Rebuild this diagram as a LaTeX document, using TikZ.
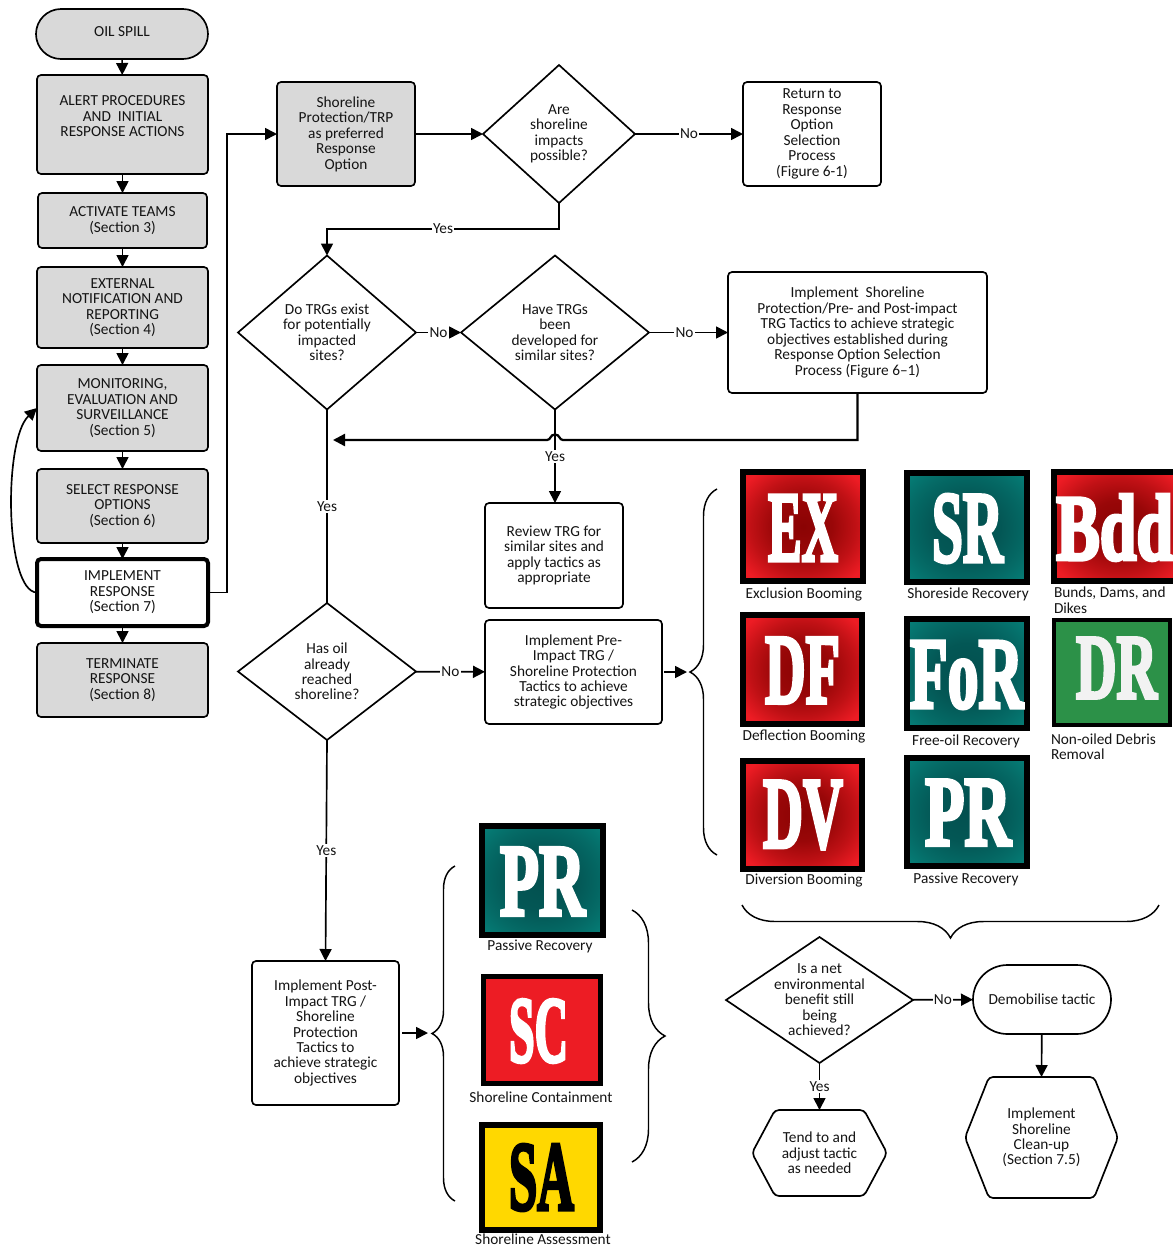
\documentclass[tikz,border=0pt]{standalone}
\usepackage{fontspec}
\setmainfont{Carlito}
\newfontfamily\fatface[BoldFeatures={FakeBold=4}]{Liberation Serif}
\usetikzlibrary{shapes.geometric,shapes.misc,arrows.meta,calc,decorations.pathreplacing}
\definecolor{greybox}{HTML}{D9D9D9}
\definecolor{txt}{HTML}{141414}
\definecolor{tred}{HTML}{ED1C24}
\definecolor{tredd}{HTML}{8A0303}
\definecolor{tteal}{HTML}{067F78}
\definecolor{tteald}{HTML}{03504F}
\definecolor{tgreen}{HTML}{2C9148}
\definecolor{tyellow}{HTML}{FFD800}
\definecolor{offwhite}{HTML}{F2F2F2}
\pgfdeclareradialshading{redhalo}{\pgfpointorigin}{color(0bp)=(tredd); color(12bp)=(tredd!85!tred); color(22bp)=(tred!55!tredd); color(31bp)=(tred); color(50bp)=(tred)}
\pgfdeclareradialshading{tealhalo}{\pgfpointorigin}{color(0bp)=(tteald); color(14bp)=(tteald!85!tteal); color(25bp)=(tteal!55!tteald); color(35bp)=(tteal); color(50bp)=(tteal)}
\newcommand{\gl}[3]{\resizebox{\dimexpr#1pt*3/4\relax}{\dimexpr#2pt*3/4\relax}{\fatface\bfseries #3}}
\newcommand{\hexframe}[2]{\draw[conn,rounded corners=3pt] (#1.west) -- ($(#1.north west)+(#2,0)$) -- ($(#1.north east)+(-#2,0)$) -- (#1.east) -- ($(#1.south east)+(-#2,0)$) -- ($(#1.south west)+(#2,0)$) -- cycle;}
\tikzset{
  every node/.style={inner sep=0pt,outer sep=0pt,align=center,text=txt,font=\fontsize{11.5}{11.6}\selectfont},
  sz/.style 2 args={minimum width=#1*0.75pt,minimum height=#2*0.75pt},
  conn/.style={draw=black,line width=1.25pt},
  arr/.style={conn,-{Triangle[length=9pt,width=9pt]}},
  greyb/.style={draw=black,line width=1.25pt,fill=greybox,rounded corners=3pt},
  whiteb/.style={draw=black,line width=1.25pt,fill=white,rounded corners=3pt},
  thickb/.style={draw=black,line width=3pt,fill=white,rounded corners=3pt},
  stadium/.style={draw=black,line width=1.25pt,rounded rectangle},
  dia/.style={diamond,draw=black,line width=1.25pt,fill=white},
  lab/.style={fill=white,inner sep=1pt},
  tile/.style={draw=black,line width=4.5pt},
  brc/.style={draw=black,line width=1.1pt,decorate,decoration={brace,amplitude=#1*0.75pt}},
}
\begin{document}
\begin{tikzpicture}[x=0.75pt,y=-0.75pt]
\useasboundingbox (0,0) rectangle (1173,1247);
\clip (0,0) rectangle (1173,1247);
% left column
\node[stadium,fill=greybox,sz={172}{50}] (oil) at (122,34) {\raisebox{3pt}{OIL SPILL}};
\node[greyb,sz={171}{99}] (alert) at (122.5,124.5) {ALERT PROCEDURES\\AND\ \ INITIAL\\RESPONSE ACTIONS\\[1pt]~};
\node[greyb,sz={169}{55}] (activate) at (122.5,220.5) {ACTIVATE TEAMS\\(Section 3)};
\node[greyb,sz={171}{81}] (external) at (122.5,307.5) {EXTERNAL\\NOTIFICATION AND\\REPORTING\\(Section 4)};
\node[greyb,sz={171}{86}] (monitor) at (122.5,408) {MONITORING,\\EVALUATION AND\\SURVEILLANCE\\(Section 5)};
\node[greyb,sz={171}{74}] (select) at (122.5,506) {SELECT RESPONSE\\OPTIONS\\(Section 6)};
\node[thickb,sz={171}{67}] (impl) at (122.5,592.5) {IMPLEMENT\\RESPONSE\\(Section 7)};
\node[greyb,sz={171}{74}] (term) at (122.5,680) {TERMINATE\\RESPONSE\\(Section 8)};
% top row
\node[greyb,sz={138}{104}] (shore) at (346,134) {Shoreline\\Protection/TRP\\as preferred\\Response\\Option};
\node[dia,sz={152}{138},label=center:{Are\\shoreline\\impacts\\possible?}] (d1) at (559,134) {};
\node[whiteb,sz={138}{104}] (ret) at (812,134) {Return to\\Response\\Option\\Selection\\Process\\(Figure 6-1)};
% second row
\node[dia,sz={178}{154},label=center:{Do TRGs exist\\for potentially\\impacted\\sites?}] (d2) at (327,332.5) {};
\node[dia,sz={188}{154},label=center:{Have TRGs\\been\\developed for\\similar sites?}] (d3) at (555,332.5) {};
\node[whiteb,sz={259}{121}] (tact) at (857.5,332.5) {Implement\ \ Shoreline\\Protection/Pre- and Post-impact\\TRG Tactics to achieve strategic\\objectives established during\\Response Option Selection\\Process (Figure 6--1)};
\node[whiteb,sz={138}{105}] (review) at (554,555.5) {Review TRG for\\similar sites and\\apply tactics as\\appropriate};
\node[dia,sz={178}{137},label=center:{Has oil\\already\\reached\\shoreline?}] (d4) at (327,671.5) {};
\node[whiteb,sz={177}{104}] (pre) at (573.5,672) {Implement Pre-\\Impact TRG /\\Shoreline Protection\\Tactics to achieve\\strategic objectives};
\node[whiteb,sz={147}{144}] (post) at (325.5,1033) {Implement Post-\\Impact TRG /\\Shoreline\\Protection\\Tactics to\\achieve strategic\\objectives};
% bottom right
\node[dia,sz={187}{126},label=center:{Is a net\\environmental\\benefit still\\being\\achieved?}] (d5) at (819.5,1000) {};
\node[stadium,fill=white,sz={138}{69}] (demob) at (1042,999.5) {Demobilise tactic};
\node[sz={135}{86}] (hex1) at (819.5,1153) {Tend to and\\adjust tactic\\as needed};
\hexframe{hex1}{23}
\node[sz={153}{121}] (hex2) at (1041.5,1137.5) {Implement\\Shoreline\\Clean-up\\(Section 7.5)};
\hexframe{hex2}{24}
% tiles
\node[tile,shade,shading=redhalo,sz={120}{109}] (tEX) at (803,526.5) {};
\node at (803,528) {\textcolor{white}{\gl{70}{65}{EX}}};
\node[tile,shade,shading=tealhalo,sz={120}{109}] (tSR) at (967,527.5) {};
\node at (967.5,528.5) {\textcolor{white}{\gl{71}{67}{SR}}};
\node[tile,shade,shading=redhalo,sz={130}{109}] (tBdd) at (1119,526.5) {};
\node at (1114.5,527.5) {\textcolor{white}{\gl{117}{65}{Bdd}}};
\node[tile,shade,shading=redhalo,sz={119}{109}] (tDF) at (802.5,669.5) {};
\node at (802.5,670.5) {\textcolor{white}{\gl{75}{65}{DF}}};
\node[tile,shade,shading=tealhalo,sz={120}{109}] (tFoR) at (967,673.5) {};
\node at (966.5,675) {\textcolor{white}{\gl{113}{66}{FoR}}};
\node[tile,fill=tgreen,line width=3pt,sz={116}{105}] (tDR) at (1112,672.5) {};
\node at (1116.5,668) {\textcolor{offwhite}{\gl{81}{60}{DR}}};
\node[tile,shade,shading=redhalo,sz={119}{108}] (tDV) at (802.5,815) {};
\node at (803,815) {\textcolor{white}{\gl{80}{66}{DV}}};
\node[tile,shade,shading=tealhalo,sz={120}{108}] (tPR) at (967,812) {};
\node at (968,812.5) {\textcolor{white}{\gl{86}{65}{PR}}};
\node[tile,shade,shading=tealhalo,sz={121}{109}] (tPR2) at (542.5,880.5) {};
\node at (542.5,881.5) {\textcolor{white}{\gl{85}{67}{PR}}};
\node[tile,fill=tred,line width=3.75pt,sz={117}{107}] (tSC) at (542,1030) {};
\node at (538.5,1031) {\textcolor{white}{\gl{59}{62}{SC}}};
\node[tile,fill=tyellow,sz={118}{105}] (tSA) at (541,1177.5) {};
\node at (541.5,1177.5) {\textcolor{black}{\gl{65}{65}{SA}}};
% tile captions
\node (c1) at (804,594) {Exclusion Booming};
\node (c2) at (968,594) {Shoreside Recovery};
\node[anchor=west,align=left] (c3) at (1054,600) {Bunds, Dams, and\\Dikes};
\node (c4) at (804,737) {Deflection Booming};
\node (c5) at (966,741) {Free-oil Recovery};
\node[anchor=west,align=left] (c6) at (1051,746.5) {Non-oiled Debris\\Removal};
\node (c7) at (804,881) {Diversion Booming};
\node (c8) at (966,879) {Passive Recovery};
\node (c9) at (540,946) {Passive Recovery};
\node (c10) at (541,1097.5) {Shoreline Containment};
\node (c11) at (543,1239.5) {Shoreline Assessment};
% braces
\coordinate (b1a) at (717,489); \coordinate (b1b) at (717,855);
\coordinate (b2a) at (742,905); \coordinate (b2b) at (1159,905);
\coordinate (b3a) at (455,866); \coordinate (b3b) at (455,1201);
\coordinate (b4a) at (632,910); \coordinate (b4b) at (632,1162);
\draw[brc=27] (b1b) -- (b1a);
\draw[brc=33] (b2b) -- (b2a);
\draw[brc=23] (b3b) -- (b3a);
\draw[brc=33] (b4a) -- (b4b);
% column arrows
\draw[arr] (oil) -- (alert);
\draw[arr] (alert) -- (activate);
\draw[arr] (activate) -- (external);
\draw[arr] (external) -- (monitor);
\draw[arr] (monitor) -- (select);
\draw[arr] (select) -- (impl);
\draw[arr] (impl) -- (term);
\draw[arr] (impl.west) .. controls (5,592) and (3,440) .. (monitor.west);
\coordinate (up) at (227,134);
\draw[arr] (impl.east) -- (up |- impl.east) -- (up) -- (shore.west);
\draw[arr] (shore) -- (d1);
\draw[arr] (d1) -- node[lab] {No} (ret);
\coordinate (yes1) at (559,229);
\draw[arr] (d1.south) -- (yes1) -- node[lab,pos=.5] {Yes} (yes1 -| d2.north) -- (d2.north);
\draw[arr] (d2) -- node[lab,pos=.5] {No} (d3);
\draw[arr] (d3) -- node[lab,pos=.45] {No} (d3 -| tact.west);
\coordinate (back) at (333,440);
\coordinate (j1) at (563,440); \coordinate (j2) at (547,440);
\coordinate (bend) at (tact.south |- back);
\draw[arr,line width=1.7pt] (tact.south) -- (bend) -- (j1) .. controls (559,440) and (560,434.5) .. (555,434.5) .. controls (550,434.5) and (551,440) .. (j2) -- (back);
\draw[arr] (d3.south) -- node[lab,pos=.5] {Yes} (review.north -| d3.south);
\draw[conn] (d2.south) -- node[lab] {Yes} (d4.north);
\draw[arr] (d4) -- node[lab] {No} (pre);
\draw[arr] (d4.south) -- node[lab] {Yes} (post.north);
\coordinate (pa) at (664,672); \coordinate (pb) at (687,672);
\draw[arr] (pa) -- (pb);
\coordinate (qa) at (402,1033); \coordinate (qb) at (428,1033);
\draw[arr] (qa) -- (qb);
\draw[arr] (d5) -- node[lab] {No} (demob);
\draw[arr] (d5.south) -- node[lab] {Yes} (hex1.north);
\draw[arr] (demob) -- (hex2.north);
\end{tikzpicture}
\end{document}
